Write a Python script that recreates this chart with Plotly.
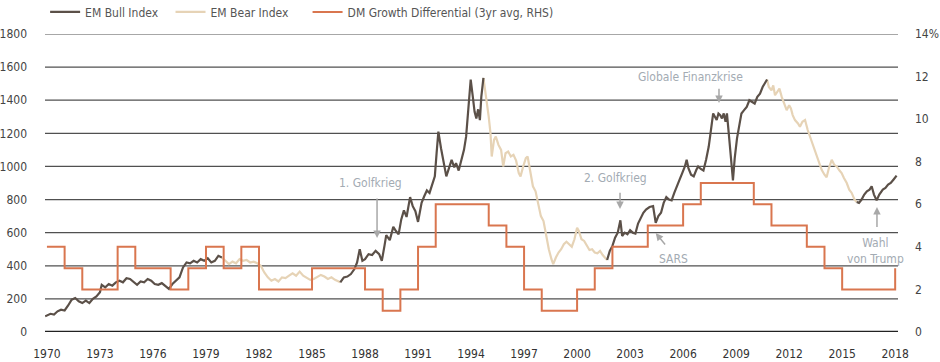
import plotly.graph_objects as go

# ---------------- data ----------------
index_years = [
    1969.9, 1970.2, 1970.4, 1970.6, 1970.8, 1971.0, 1971.2, 1971.4, 1971.6, 1971.8,
    1972.0, 1972.2, 1972.4, 1972.6, 1972.8, 1973.0, 1973.1, 1973.3, 1973.5, 1973.7,
    1973.9, 1974.1, 1974.3, 1974.5, 1974.7, 1974.9, 1975.1, 1975.3, 1975.5, 1975.7,
    1975.9, 1976.1, 1976.3, 1976.5, 1976.7, 1976.9, 1977.1, 1977.3, 1977.5, 1977.7,
    1977.9, 1978.1, 1978.3, 1978.5, 1978.7, 1978.9, 1979.1, 1979.3, 1979.5, 1979.7,
    1979.9,
    1980.1, 1980.3, 1980.5, 1980.7, 1980.9, 1981.1, 1981.3, 1981.5, 1981.7, 1981.9,
    1982.1, 1982.3, 1982.5, 1982.7, 1982.9, 1983.1, 1983.3, 1983.5, 1983.7, 1983.9,
    1984.1, 1984.3, 1984.5, 1984.7, 1984.9, 1985.1, 1985.3, 1985.5, 1985.7, 1985.9,
    1986.1, 1986.3, 1986.6,
    1986.8, 1987.0, 1987.2, 1987.4, 1987.55, 1987.7, 1987.85, 1988.0, 1988.2, 1988.4,
    1988.6, 1988.8, 1988.95, 1989.1, 1989.2, 1989.4, 1989.6, 1989.75, 1989.9, 1990.05,
    1990.2, 1990.35, 1990.55, 1990.7, 1990.85, 1991.0, 1991.2, 1991.35, 1991.5, 1991.65,
    1991.8, 1991.95, 1992.05, 1992.15, 1992.3, 1992.45, 1992.6, 1992.75, 1992.9, 1993.05,
    1993.15, 1993.3, 1993.45, 1993.6, 1993.72, 1993.85, 1993.98, 1994.1, 1994.2, 1994.3,
    1994.4, 1994.5, 1994.58, 1994.7,
    1994.8, 1994.9, 1995.0, 1995.1, 1995.17, 1995.3, 1995.4, 1995.55, 1995.7, 1995.82,
    1995.95, 1996.1, 1996.25, 1996.4, 1996.55, 1996.7, 1996.8, 1996.95, 1997.1, 1997.2,
    1997.35, 1997.5, 1997.65, 1997.8, 1997.95, 1998.1, 1998.25, 1998.4, 1998.55, 1998.65,
    1998.8, 1998.95, 1999.1, 1999.25, 1999.4, 1999.55, 1999.7, 1999.85, 2000.0, 2000.1,
    2000.25, 2000.4, 2000.55, 2000.7, 2000.85, 2001.0, 2001.15, 2001.3, 2001.45, 2001.7,
    2001.85, 2002.0, 2002.15, 2002.3, 2002.45, 2002.55, 2002.7, 2002.85, 2003.0, 2003.15,
    2003.3, 2003.45, 2003.6, 2003.75, 2003.9, 2004.1, 2004.3, 2004.45, 2004.6, 2004.75,
    2004.9, 2005.05, 2005.2, 2005.35, 2005.5, 2005.65, 2005.8, 2005.95, 2006.1, 2006.2,
    2006.3, 2006.45, 2006.6, 2006.75, 2006.85, 2007.0, 2007.15, 2007.3, 2007.45, 2007.55,
    2007.7, 2007.8, 2007.9, 2008.0, 2008.1, 2008.2, 2008.3, 2008.4, 2008.48, 2008.6,
    2008.7, 2008.82, 2008.92, 2009.05, 2009.2, 2009.3, 2009.45, 2009.6, 2009.75, 2009.9,
    2010.05, 2010.2, 2010.35, 2010.5, 2010.62, 2010.75,
    2010.85, 2011.0, 2011.1, 2011.2, 2011.3, 2011.45, 2011.58, 2011.72, 2011.86, 2012.0,
    2012.1, 2012.2, 2012.33, 2012.5, 2012.61, 2012.75, 2012.9, 2013.05, 2013.18, 2013.35,
    2013.5, 2013.65, 2013.84, 2014.0, 2014.12, 2014.25, 2014.41, 2014.55, 2014.69, 2014.85,
    2014.97, 2015.1, 2015.26, 2015.4, 2015.54, 2015.7, 2015.82,
    2015.95, 2016.1, 2016.25, 2016.4, 2016.55, 2016.67, 2016.8, 2016.95, 2017.1, 2017.3,
    2017.45, 2017.6, 2017.75, 2017.9, 2018.08,
]
index_values = [
    95, 110, 105, 125, 135, 130, 160, 195, 205, 185,
    175, 190, 175, 200, 215, 240, 285, 270, 290, 280,
    300, 310, 300, 325, 320, 300, 285, 305, 300, 320,
    310, 290, 285, 295, 275, 260, 290, 310, 330, 390,
    420, 415, 430, 420, 440, 430, 445, 420, 430, 460,
    450,
    430, 410, 425, 415, 440, 430, 435, 420, 425, 415,
    400, 360, 330, 310, 320, 305, 330, 325, 340, 355,
    340, 365, 340, 325, 315, 320, 335, 345, 335, 320,
    330, 315, 300,
    330, 335, 350, 380, 420, 500, 430, 440, 470, 465,
    490, 470, 430, 520, 585, 555, 635, 610, 590, 680,
    735, 695, 815, 760, 730, 665, 780, 820, 855, 840,
    890, 940, 1080, 1210, 1110, 1030, 940, 990, 1040, 995,
    1020, 975, 1040, 1100, 1180, 1380, 1525, 1420, 1330, 1290,
    1345, 1280, 1420, 1535,
    1460, 1390, 1300, 1200, 1060, 1160, 1180, 1130, 1100, 1000,
    1080, 1090, 1060, 1070, 1035, 960, 940, 1000, 1050, 1060,
    960, 880, 850, 780, 700, 670, 580, 500, 440, 410,
    450, 480, 500, 530, 545, 530, 515, 560, 630, 610,
    560, 550, 520, 495, 500, 480, 475, 490, 465, 435,
    490, 520, 570, 600, 675, 580, 600, 590, 615, 600,
    595, 655, 690, 720, 740, 755, 760, 660, 700, 720,
    780, 815, 800, 795, 840, 875, 920, 960, 1000, 1040,
    990, 950, 940, 980, 1000, 985, 975, 1040, 1120, 1200,
    1320, 1300, 1280, 1320, 1310, 1290, 1320, 1270, 1320, 1180,
    1060, 915, 1050, 1170, 1260, 1320, 1340, 1360, 1400, 1390,
    1380, 1420, 1440, 1480, 1500, 1525,
    1480, 1460, 1490, 1430, 1445, 1470, 1420, 1380, 1340, 1370,
    1350, 1310, 1280, 1260, 1240, 1270, 1280, 1220, 1180, 1120,
    1080, 1040, 980, 950, 935, 990, 1040, 1010, 1000, 975,
    960, 930, 900, 860, 840, 800, 785,
    780, 800, 830, 850, 860, 880, 830, 795, 830, 860,
    870, 890, 900, 920, 945,
]
# years where the regime switches (bull -> bear -> bull ...)
regime_breaks = [1979.9, 1986.6, 1994.7, 2001.7, 2010.75, 2015.82]

dm_years = list(range(1970, 2019))
dm_values = [
    4, 3, 2, 2, 4, 3, 3, 2, 3, 4,
    3, 4, 2, 2, 2, 3, 3, 3, 2, 1,
    2, 4, 6, 6, 6, 5, 4, 2, 1, 1,
    2, 3, 4, 4, 5, 5, 6, 7, 7, 7,
    6, 5, 5, 4, 3, 2, 2, 2, 3,
]

left_ticks = [0, 200, 400, 600, 800, 1000, 1200, 1400, 1600, 1800]
right_ticks = [0, 2, 4, 6, 8, 10, 12, 14]
right_labels = ["0", "2", "4", "6", "8", "10", "12", "14%"]
x_ticks = list(range(1970, 2019, 3))

# ---------------- split index into bull / bear ----------------
bull, bear = [], []
for yr, v in zip(index_years, index_values):
    k = sum(1 for b in regime_breaks if b < yr)
    edge = yr in regime_breaks
    bull.append(v if (k % 2 == 0 or edge) else None)
    bear.append(v if (k % 2 == 1 or edge) else None)

C_BULL = "#5b5048"
C_BEAR = "#e6d3b6"
C_DM = "#d9764f"
FONT = "DejaVu Sans Condensed, Liberation Sans Narrow, sans-serif"

fig = go.Figure()
fig.add_trace(go.Scatter(x=dm_years, y=dm_values, name="DM Growth Differential (3yr avg, RHS)",
                         mode="lines", line=dict(color=C_DM, width=2, shape="hv"), yaxis="y2",
                         legend="legend3"))
fig.add_trace(go.Scatter(x=index_years, y=bear, name="EM Bear Index", mode="lines",
                         line=dict(color=C_BEAR, width=2.2), connectgaps=False,
                         legend="legend2"))
fig.add_trace(go.Scatter(x=index_years, y=bull, name="EM Bull Index", mode="lines",
                         line=dict(color=C_BULL, width=2.2), connectgaps=False,
                         legend="legend"))

# ---------------- gridlines ----------------
for t in left_ticks:
    fig.add_shape(type="line", xref="paper", yref="y", x0=0, x1=1, y0=t, y1=t,
                  line=dict(color="#222" if t == 0 else "#505050",
                            width=2.5 if t == 0 else 1.2),
                  layer="below")

# ---------------- annotations ----------------
TXT = "#a3abb3"
ARW = "#a8a8a8"
labels = [
    ("1. Golfkrieg", 1988.3, 900),
    ("2. Golfkrieg", 2002.15, 930),
    ("Globale Finanzkrise", 2006.4, 1540),
    ("SARS", 2005.45, 441),
    ("Wahl<br>von Trump", 2016.86, 489),
]
for t, x, y in labels:
    fig.add_annotation(text=t, x=x, y=y, xref="x", yref="y", showarrow=False,
                       font=dict(family=FONT, size=12, color=TXT))
arrows = [
    (1988.68, 568, 1988.68, 815),
    (2002.43, 743, 2002.43, 850),
    (2008.03, 1383, 2008.03, 1478),
    (2004.45, 598, 2005.05, 519),
    (2016.97, 755, 2016.97, 625),
]
for x, y, ax, ay in arrows:
    fig.add_annotation(text="", x=x, y=y, ax=ax, ay=ay, xref="x", yref="y",
                       axref="x", ayref="y", showarrow=True, arrowhead=2,
                       arrowsize=1, arrowwidth=1.5, arrowcolor=ARW)

leg_common = dict(orientation="h", xanchor="left", xref="container", yref="container",
                  y=0.967, yanchor="middle",
                  font=dict(family=FONT, size=12, color="#555"),
                  bgcolor="rgba(0,0,0,0)")

fig.update_layout(
    width=940, height=362,
    margin=dict(l=45, r=42, t=34, b=30, autoexpand=False),
    paper_bgcolor="white", plot_bgcolor="white",
    font=dict(family=FONT, size=12, color="#444"),
    showlegend=True,
    legend=dict(x=0.048, **leg_common),
    legend2=dict(x=0.1814, **leg_common),
    legend3=dict(x=0.3272, **leg_common),
    xaxis=dict(range=[1969.89, 2018.16], tickvals=x_ticks, showgrid=False,
               zeroline=False, showline=False, ticks="", ticklabelstandoff=13,
               automargin=False,
               tickfont=dict(family=FONT, size=12, color="#333")),
    yaxis=dict(range=[0, 1800], tickvals=left_ticks, showgrid=False,
               zeroline=False, showline=False, ticks="", automargin=False,
               ticklabelstandoff=17, tickfont=dict(family=FONT, size=12, color="#444")),
    yaxis2=dict(range=[0, 14], tickvals=right_ticks, ticktext=right_labels,
                overlaying="y", side="right", showgrid=False, zeroline=False,
                showline=False, ticks="", ticklabelstandoff=16, automargin=False,
                tickfont=dict(family=FONT, size=12, color="#444")),
)

fig.write_html("out.html", config={"displayModeBar": False},
               post_script="document.body.style.margin='0';")
